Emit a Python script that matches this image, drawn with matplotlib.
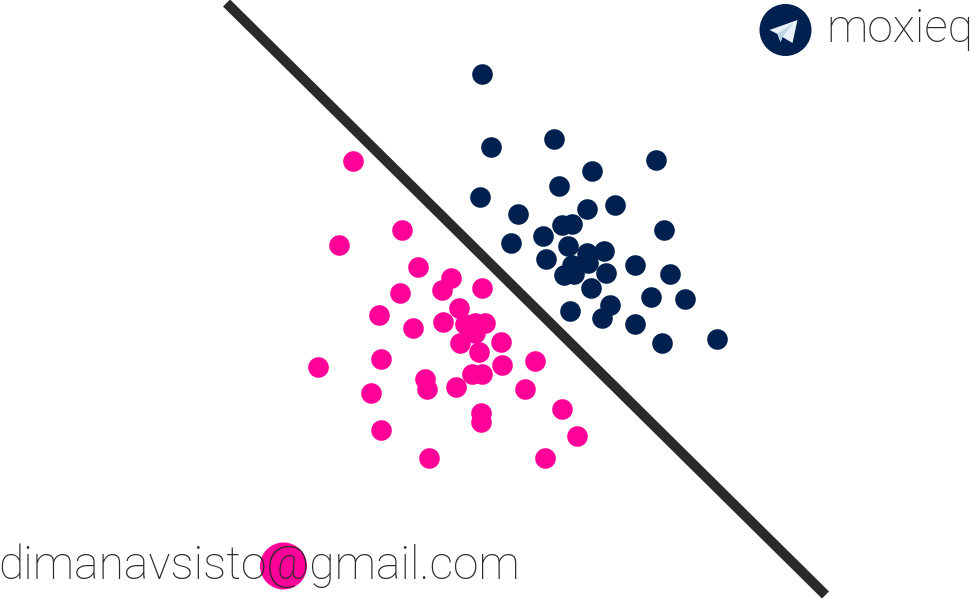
import matplotlib
matplotlib.use("Agg")
import matplotlib.pyplot as plt
from matplotlib.patches import Circle, Polygon

navy_x = [482, 491, 554, 656, 592, 559, 480, 615, 587, 518, 562, 572, 664, 543, 511, 568, 604, 587,
          546, 572, 588, 635, 606, 670, 564, 574, 591, 651, 685, 610, 570, 602, 635, 662, 717]
navy_y = [74, 147, 139, 160, 171, 186, 197, 205, 209, 214, 225, 224, 230, 236, 243, 246, 251, 253,
          259, 265, 263, 265, 273, 274, 275, 274, 288, 297, 299, 305, 311, 318, 324, 343, 339]

pink_x = [353, 402, 339, 418, 451, 442, 482, 400, 459, 379, 443, 413, 465, 475, 485, 475, 460, 501,
          479, 381, 318, 502, 535, 472, 482, 425, 427, 456, 525, 371, 562, 481, 481, 381, 577, 429, 545]
pink_y = [161, 230, 245, 267, 278, 290, 288, 293, 308, 315, 322, 328, 324, 323, 323, 333, 343, 342,
          352, 359, 367, 365, 361, 374, 374, 379, 389, 387, 389, 393, 409, 413, 422, 430, 436, 458, 458]

line_x = [227, 826]
line_y = [3, 595]

NAVY = "#00214f"
PINK = "#ff0099"
DARK = "#2b2a29"

plt.rcParams["font.family"] = ["Roboto", "DejaVu Sans"]

fig = plt.figure(figsize=(9.72, 5.99), dpi=100)
ax = fig.add_axes([0, 0, 1, 1])
ax.set_xlim(0.5, 972.5)
ax.set_ylim(599, 0)
ax.axis("off")

ax.plot(line_x, line_y, color=DARK, linewidth=7.2, solid_capstyle="butt", zorder=1)
ax.scatter(navy_x, navy_y, s=220, color=NAVY, linewidths=0, zorder=2)
ax.scatter(pink_x, pink_y, s=220, color=PINK, linewidths=0, zorder=2)

# telegram badge
ax.add_patch(Circle((786, 30), 26, color=NAVY, linewidth=0, zorder=2))
ax.add_patch(Polygon([[770, 30], [798, 20], [793, 43], [783, 37], [781, 42], [778, 34]],
                     closed=True, color="#e8f1f8", linewidth=0, zorder=3))
ax.add_patch(Polygon([[778, 34], [781, 42], [783, 37], [794, 23]],
                     closed=True, color="#bcd3e4", linewidth=0, zorder=4))

# email badge
ax.add_patch(Circle((284, 566), 23.5, color=PINK, linewidth=0, zorder=2))

ax.text(826.5, 42, "moxieq", fontsize=33.3, fontweight="light", color=DARK, ha="left", va="baseline", zorder=5)
ax.text(-1, 579, "dimanavsisto@gmail.com", fontsize=33.3, fontweight="light", color=DARK, ha="left", va="baseline", zorder=5)

fig.savefig("out.png", dpi=100, facecolor="white")
